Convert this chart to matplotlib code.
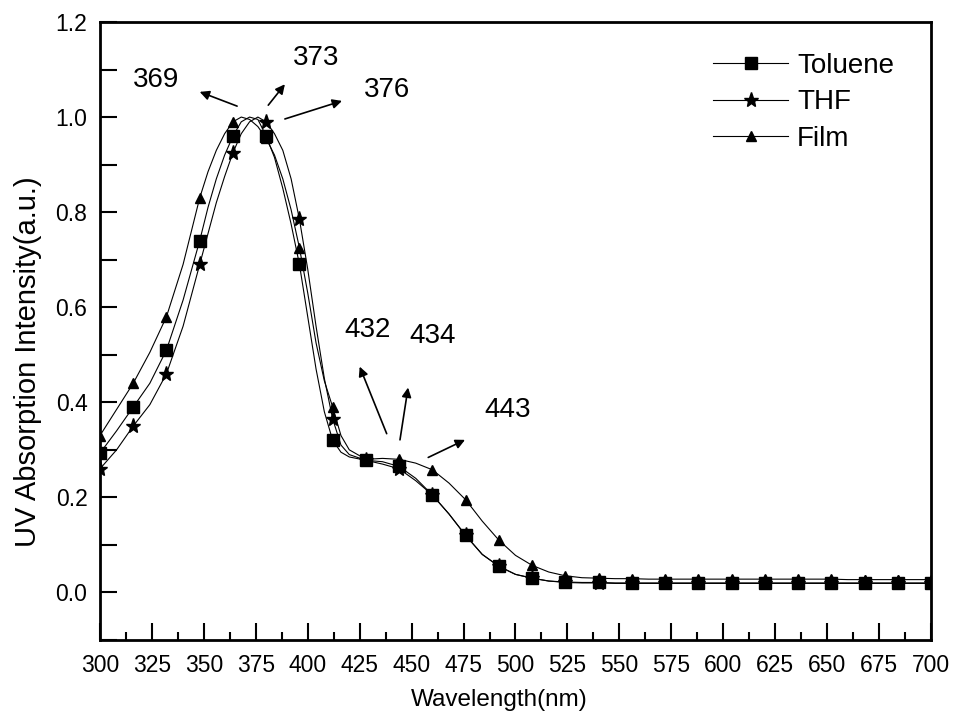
import numpy as np
import matplotlib
matplotlib.use("Agg")
import matplotlib.pyplot as plt
from matplotlib.ticker import MultipleLocator, FormatStrFormatter

plt.rcParams['font.family'] = ['Liberation Sans', 'DejaVu Sans']

# wavelength (nm): 8 nm steps, 4 nm steps across the main band
wavelength = np.array(
    [300, 308, 316, 324, 332, 340, 348,
     352, 356, 360, 364, 368, 372, 376, 380, 384, 388, 392, 396,
     400, 404, 408, 412, 416, 420,
     428, 436, 444, 452, 460, 468, 476, 484, 492, 500, 508, 516, 524,
     532, 540, 548, 556, 564, 572, 580, 588, 596, 604, 612, 620, 628,
     636, 644, 652, 660, 668, 676, 684, 692, 700])

toluene = [0.293, 0.34, 0.39, 0.44, 0.51, 0.615, 0.74,
           0.81, 0.87, 0.92, 0.96, 0.99, 1.00, 0.995, 0.96, 0.915, 0.85, 0.775, 0.69,
           0.58, 0.47, 0.38, 0.32, 0.295, 0.285,
           0.278, 0.275, 0.265, 0.24, 0.205, 0.165, 0.12, 0.08, 0.055, 0.038, 0.03, 0.024, 0.022,
           0.021, 0.021, 0.02, 0.02, 0.02, 0.02, 0.02, 0.02, 0.02, 0.02, 0.02, 0.02, 0.02,
           0.02, 0.02, 0.02, 0.02, 0.02, 0.02, 0.02, 0.02, 0.02]
thf = [0.26, 0.30, 0.35, 0.395, 0.46, 0.56, 0.69,
       0.755, 0.82, 0.875, 0.925, 0.965, 0.99, 1.00, 0.99, 0.965, 0.93, 0.87, 0.785,
       0.68, 0.56, 0.45, 0.365, 0.31, 0.29,
       0.278, 0.27, 0.26, 0.235, 0.205, 0.165, 0.12, 0.08, 0.055, 0.038, 0.03, 0.024, 0.021,
       0.02, 0.02, 0.019, 0.019, 0.019, 0.019, 0.019, 0.019, 0.019, 0.019, 0.019, 0.019, 0.019,
       0.019, 0.019, 0.019, 0.019, 0.019, 0.019, 0.019, 0.019, 0.019]
film = [0.33, 0.385, 0.44, 0.505, 0.58, 0.69, 0.83,
        0.885, 0.93, 0.965, 0.99, 1.00, 0.995, 0.98, 0.955, 0.92, 0.87, 0.805, 0.725,
        0.63, 0.525, 0.445, 0.39, 0.33, 0.30,
        0.28, 0.282, 0.28, 0.272, 0.258, 0.23, 0.195, 0.15, 0.11, 0.078, 0.057, 0.043, 0.035,
        0.031, 0.03, 0.029, 0.029, 0.028, 0.028, 0.028, 0.028, 0.028, 0.028, 0.028, 0.028, 0.028,
        0.028, 0.028, 0.028, 0.027, 0.027, 0.027, 0.027, 0.027, 0.027]

# peak labels: (text, text position, arrow tail, arrow head)
peak_labels = ["369", "373", "376", "432", "434", "443"]
label_pos = [(327, 1.078), (404, 1.124), (438, 1.057),
             (429, 0.553), (460, 0.54), (496, 0.384)]
arrow_tail = [(366, 1.023), (381, 1.025), (389, 0.996),
              (438, 0.334), (444.4, 0.321), (458, 0.284)]
arrow_head = [(348, 1.053), (389, 1.069), (416.5, 1.034),
              (425, 0.475), (448.3, 0.431), (475.7, 0.321)]


def main():
    fig = plt.figure(figsize=(9.54, 7.28), dpi=100)
    ax = fig.add_axes([0.1048, 0.1209, 0.8711, 0.8489])

    # symbols every 16 nm
    marks = [i for i, w in enumerate(wavelength) if (w - 300) % 16 == 0]

    ax.plot(wavelength, toluene, color='k', lw=0.8, marker='s', ms=8,
            markevery=marks, label='Toluene')
    ax.plot(wavelength, thf, color='k', lw=0.8, marker='*', ms=11,
            markevery=marks, label='THF')
    ax.plot(wavelength, film, color='k', lw=0.8, marker='^', ms=7,
            markevery=marks, label='Film')

    for txt, pos, tail, head in zip(peak_labels, label_pos, arrow_tail, arrow_head):
        ax.text(pos[0], pos[1], txt, fontsize=20, ha='center', va='center')
        ax.annotate('', xy=head, xytext=tail,
                    arrowprops=dict(arrowstyle='-|>', color='k', lw=1.2,
                                    mutation_scale=14, shrinkA=0, shrinkB=0))

    ax.set_xlim(300, 700)
    ax.set_ylim(-0.1, 1.2)
    ax.xaxis.set_major_locator(MultipleLocator(25))
    ax.xaxis.set_minor_locator(MultipleLocator(12.5))
    ax.yaxis.set_major_locator(MultipleLocator(0.2))
    ax.yaxis.set_minor_locator(MultipleLocator(0.1))
    ax.yaxis.set_major_formatter(FormatStrFormatter('%.1f'))
    ax.tick_params(which='both', direction='in', top=False, right=False,
                   labelsize=16.5, width=1.5)
    ax.tick_params(axis='x', which='major', length=12, pad=10)
    ax.tick_params(axis='x', which='minor', length=6)
    ax.tick_params(axis='y', which='both', length=12, pad=9)
    for s in ax.spines.values():
        s.set_linewidth(2)

    ax.set_xlabel('Wavelength(nm)', fontsize=17.5)
    ax.xaxis.set_label_coords(0.481, -0.079)
    ax.set_ylabel('UV Absorption Intensity(a.u.)', fontsize=21)
    ax.yaxis.set_label_coords(-0.070, 0.45)

    ax.legend(loc='upper left', bbox_to_anchor=(0.7377, 0.950), frameon=False,
              fontsize=20, handlelength=2.7, handletextpad=0.32,
              labelspacing=0.38, borderaxespad=0, borderpad=0)

    fig.savefig('out.png', dpi=100)


if __name__ == '__main__':
    main()
